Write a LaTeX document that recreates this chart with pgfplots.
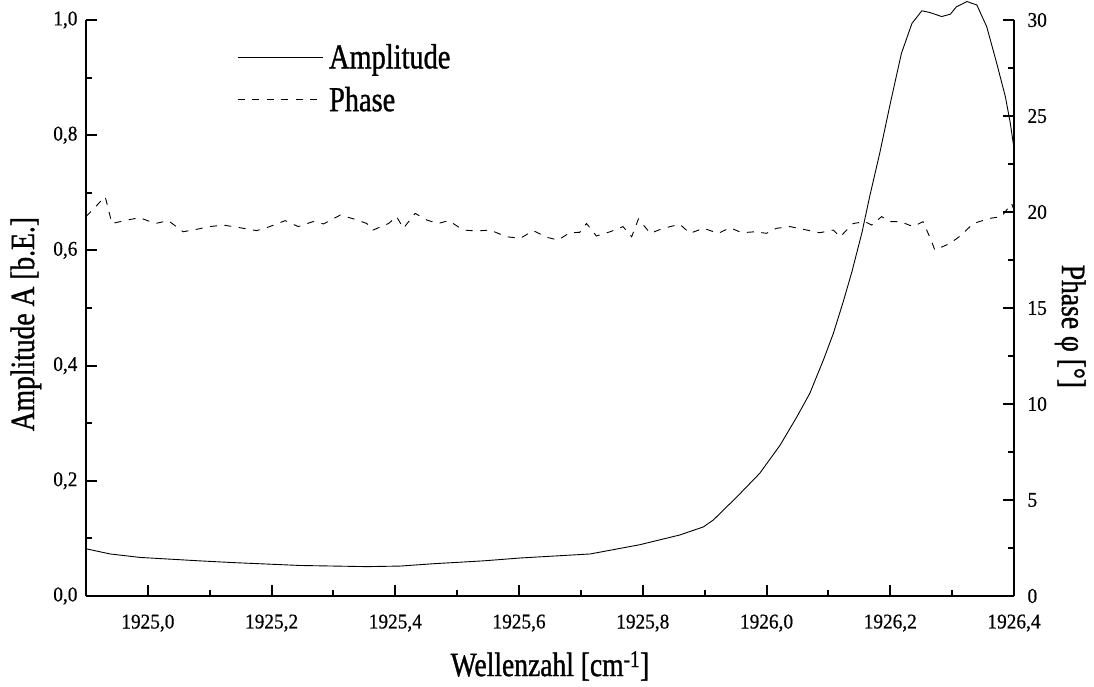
\documentclass[border=0pt]{standalone}
\usepackage{fontspec}
\setmainfont[FakeStretch=0.92, FakeBold=0.6]{Liberation Serif}
\newfontfamily\labelfont[FakeStretch=0.81, FakeBold=1]{Liberation Serif}
\usepackage{pgfplots}
\pgfplotsset{compat=1.18}
\pgfplotsset{
  common/.style={
    scale only axis, width=928pt, height=576pt,
    xmin=1924.9, xmax=1926.4,
    clip=false,
    tick align=inside,
    major tick length=11pt, minor tick length=6pt,
    every tick/.style={black, line width=2pt},
    axis line style={-, line width=2.6pt},
    /pgf/number format/assume math mode=true,
    tick label style={font=\fontsize{21}{24}\selectfont},
  }
}
\begin{document}
\begin{tikzpicture}
\begin{axis}[common,
  axis x line*=bottom, axis y line*=left,
  ymin=0, ymax=1,
  xtick={1925.0,1925.2,1925.4,1925.6,1925.8,1926.0,1926.2,1926.4},
  minor x tick num=1,
  ytick={0,0.2,0.4,0.6,0.8,1.0}, minor y tick num=1,
  xticklabel style={yshift=-15pt, /pgf/number format/.cd, fixed, fixed zerofill, precision=1, use comma, 1000 sep={}},
  yticklabel style={xshift=-5pt, /pgf/number format/.cd, fixed, fixed zerofill, precision=1, use comma},
  xlabel={Wellenzahl [cm\textsuperscript{-1}]},
  ylabel={Amplitude A [b.E.]},
  every axis x label/.style={at={(axis description cs:0.5,-0.139)}, anchor=base, font=\labelfont\fontsize{34}{36}\selectfont},
  every axis y label/.style={at={(axis description cs:-0.056,0.472)}, anchor=base, rotate=90, font=\labelfont\fontsize{34}{36}\selectfont},
  legend style={draw=none, fill=none, at={(axis description cs:0.1627,0.962)}, anchor=north west,
    font=\labelfont\fontsize{35}{38}\selectfont, row sep=13pt, column sep=4pt, inner sep=0pt},
  legend cell align=left,
  legend image code/.code={\draw[#1] (0pt,0pt) -- (85pt,0pt);},
]
\addplot[black, line width=0.9pt] coordinates {
(1924.900,0.082) (1924.939,0.073) (1924.987,0.067) (1925.084,0.061) (1925.138,0.058)
(1925.246,0.053) (1925.354,0.051) (1925.408,0.052) (1925.461,0.056) (1925.542,0.061)
(1925.602,0.066) (1925.715,0.073) (1925.795,0.089) (1925.860,0.106) (1925.898,0.120)
(1925.914,0.132) (1925.952,0.172) (1925.989,0.213) (1926.022,0.262) (1926.049,0.311)
(1926.070,0.352) (1926.092,0.410) (1926.108,0.456) (1926.124,0.511) (1926.138,0.563)
(1926.154,0.630) (1926.167,0.695) (1926.183,0.769) (1926.200,0.855) (1926.218,0.942)
(1926.235,0.994) (1926.251,1.016) (1926.264,1.013) (1926.283,1.006) (1926.297,1.010)
(1926.307,1.023) (1926.324,1.032) (1926.340,1.026) (1926.356,0.988) (1926.372,0.925)
(1926.386,0.867) (1926.394,0.821) (1926.400,0.777)
};
\addlegendentry{Amplitude}
\addlegendimage{black, line width=0.9pt, dash pattern=on 7pt off 7.5pt}
\addlegendentry{Phase}
\end{axis}
\begin{axis}[common,
  axis x line=none, axis y line*=right,
  ymin=0, ymax=30,
  ytick={0,5,10,15,20,25,30}, minor y tick num=1,
  yticklabel style={xshift=10pt},
  ylabel={Phase φ [°]},
  every axis y label/.style={at={(axis description cs:1.0517,0.468)}, anchor=base, rotate=-90, font=\labelfont\fontsize{34}{36}\selectfont},
]
\addplot[black, line width=0.9pt, dash pattern=on 7pt off 7.5pt] coordinates {
(1924.900,19.76) (1924.931,20.80) (1924.942,19.40) (1924.966,19.58) (1924.987,19.70)
(1925.012,19.40) (1925.033,19.55) (1925.057,18.97) (1925.079,19.10) (1925.100,19.24)
(1925.122,19.32) (1925.149,19.18) (1925.176,19.03) (1925.197,19.24) (1925.222,19.55)
(1925.243,19.24) (1925.267,19.50) (1925.284,19.38) (1925.311,19.84) (1925.335,19.62)
(1925.354,19.40) (1925.364,19.06) (1925.389,19.40) (1925.402,19.76) (1925.413,19.15)
(1925.432,19.93) (1925.451,19.58) (1925.469,19.40) (1925.486,19.55) (1925.510,19.06)
(1925.532,19.01) (1925.553,19.06) (1925.580,18.71) (1925.602,18.63) (1925.623,19.03)
(1925.645,18.68) (1925.663,18.54) (1925.682,18.92) (1925.698,18.94) (1925.709,19.40)
(1925.725,18.75) (1925.747,18.97) (1925.768,19.24) (1925.782,18.71) (1925.793,19.64)
(1925.812,18.89) (1925.833,19.15) (1925.860,19.36) (1925.876,18.89) (1925.898,19.15)
(1925.922,18.89) (1925.941,19.18) (1925.960,18.92) (1925.981,18.97) (1926.000,18.89)
(1926.016,19.15) (1926.038,19.24) (1926.065,19.06) (1926.086,18.92) (1926.108,19.06)
(1926.119,18.71) (1926.140,19.40) (1926.159,19.50) (1926.170,19.32) (1926.186,19.76)
(1926.200,19.50) (1926.216,19.50) (1926.237,19.24) (1926.253,19.50) (1926.267,18.45)
(1926.272,18.02) (1926.297,18.37) (1926.315,18.80) (1926.334,19.40) (1926.361,19.67)
(1926.380,19.76) (1926.396,20.45) (1926.400,20.10)
};
\end{axis}
\pgfresetboundingbox
\path[use as bounding box] (-86pt,-90pt) rectangle (1008pt,596pt);
\end{tikzpicture}
\end{document}
